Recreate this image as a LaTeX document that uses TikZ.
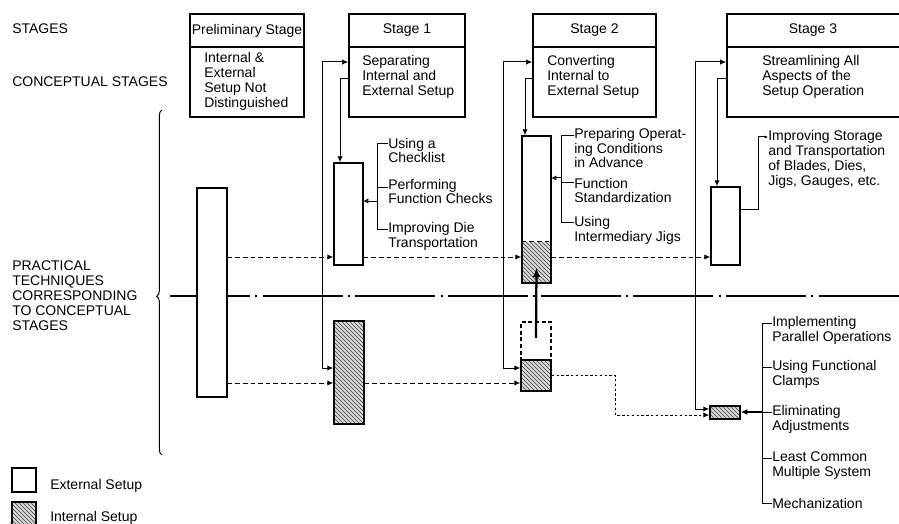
\documentclass[tikz,border=0pt]{standalone}
\usepackage{fontspec}
\setmainfont{Liberation Sans}
\usetikzlibrary{arrows.meta, patterns, fit, decorations.pathreplacing}

\begin{document}
\begin{tikzpicture}[
  x=0.75pt, y=-0.75pt,
  txt/.style={font=\fontsize{10.5}{11.2}\selectfont, inner sep=0pt, align=left, anchor=west},
  hdr/.style={font=\fontsize{10.5}{11.2}\selectfont, inner sep=0pt},
  stagebox/.style={draw, line width=1.2pt, fill=white, inner sep=0pt},
  extbox/.style={draw, line width=1.1pt, fill=white, inner sep=0pt},
  hatch/.style={inner sep=0pt, preaction={fill=gray!30}, pattern=north west lines, pattern color=black!75},
  intbox/.style={hatch, draw, line width=1.1pt},
  link/.style={line width=0.75pt},
  arr/.style={-{Latex[length=4.5pt, width=4pt]}},
  arrs/.style={{Latex[length=4.5pt, width=4pt]}-{Latex[length=4.5pt, width=4pt]}},
  opn/.style={-{Triangle[open, length=3.5pt, width=3.5pt]}},
  dashln/.style={line width=0.75pt, dash pattern=on 3.5pt off 2.2pt},
  dotln/.style={line width=0.75pt, dash pattern=on 1.8pt off 1.8pt},
  axis/.style={line width=0.8pt, dash pattern=on 60pt off 4pt on 1.5pt off 4pt}
]
  \clip (0,0) rectangle (899,524);

  % --- rows and lanes ---
  \coordinate (rD) at (0,62);
  \coordinate (rE) at (0,79);
  \coordinate (rA) at (0,257);
  \coordinate (rB) at (0,383);
  \coordinate (rF) at (0,375);
  \coordinate (o1) at (322,368);
  \coordinate (o2) at (503,368);
  \coordinate (o3) at (695,409);
  \coordinate (i1) at (340,0);
  \coordinate (i2) at (525,0);
  \coordinate (i3) at (717,0);
  \coordinate (bd) at (615,415);

  % --- left labels ---
  \node[txt] (lstg) at (12,29) {STAGES};
  \node[txt] (lcon) at (12,82) {CONCEPTUAL STAGES};
  \node[txt] (lprc) at (12,296) {PRACTICAL\\TECHNIQUES\\CORRESPONDING\\TO CONCEPTUAL\\STAGES};
  \coordinate (brb) at (162,455);
  \coordinate (brt) at (162,110);
  \draw[link, decorate, decoration={brace, amplitude=4pt, aspect=0.46}] (brb) -- (brt);

  % --- centre line ---
  \coordinate (axl) at (170,296);
  \coordinate (axr) at (899,296);
  \draw[axis] (axl) -- (axr);

  % --- conceptual stages ---
  \node[stagebox, fit={(190,14) (304,47)}] (hd0) {};
  \node[stagebox, fit={(190,47) (304,117)}] (cs0) {};
  \node[hdr] (hd0t) at (hd0.center) {Preliminary Stage};
  \node[txt] (cs0t) at (204,81) {Internal \&\\External\\Setup Not\\Distinguished};

  \node[stagebox, fit={(349,14) (465,47)}] (hd1) {};
  \node[stagebox, fit={(349,47) (465,117)}] (cs1) {};
  \node[hdr] (hd1t) at (hd1.center) {Stage 1};
  \node[txt] (cs1t) at (362,77) {Separating\\Internal and\\External Setup};

  \node[stagebox, fit={(533,14) (656,47)}] (hd2) {};
  \node[stagebox, fit={(533,47) (656,117)}] (cs2) {};
  \node[hdr] (hd2t) at (hd2.center) {Stage 2};
  \node[txt] (cs2t) at (547,77) {Converting\\Internal to\\External Setup};

  \node[stagebox, fit={(727,14) (910,47)}] (hd3) {};
  \node[stagebox, fit={(727,47) (910,117)}] (cs3) {};
  \node[hdr] (hd3t) at (813,30.5) {Stage 3};
  \node[txt] (cs3t) at (762,77) {Streamlining All\\Aspects of the\\Setup Operation};

  % --- technique boxes ---
  \node[extbox, fit={(197,188) (227,397)}] (pre) {};
  \node[extbox, fit={(334,163) (363,265)}] (e1) {};
  \node[intbox, fit={(334,321) (364,424)}] (h1) {};
  \node[hatch, fit={(522,242) (551,283)}] (h2t) {};
  \node[extbox, fill=none, fit={(522,136) (551,283)}] (e2) {};
  \draw[dashln] (h2t.north west) -- (h2t.north east);
  \node[extbox, dash pattern=on 3pt off 2pt, fit={(521,322) (551,360)}] (d2) {};
  \node[intbox, fit={(521,360) (551,391)}] (h2) {};
  \node[extbox, fit={(711,187) (740,265)}] (e3) {};
  \node[intbox, fit={(710,406) (740,419)}] (h3) {};
  \draw[line width=1.7pt, -{Latex[length=7pt, width=6pt]}] ([yshift=2.25pt]d2.center) -- ([yshift=-4pt]h2t.center);

  % --- links between stages and techniques ---
  \draw[link, arrs] (cs1.west |- rD) -| (o1) -- (o1 -| h1.west);
  \draw[link, arr] (cs1.west |- rE) -| (e1.north -| i1);
  \draw[link, arrs] (cs2.west |- rD) -| (o2) -- (o2 -| h2.west);
  \draw[link, arr] (cs2.west |- rE) -| (e2.north -| i2);
  \draw[link, arrs] (cs3.west |- rD) -| (o3) -- (o3 -| h3.west);
  \draw[link, arr] (cs3.west |- rE) -| (e3.north -| i3);

  \draw[dashln, arr] (pre.east |- rA) -- (e1.west |- rA);
  \draw[dashln, arr] (e1.east |- rA) -- (e2.west |- rA);
  \draw[dashln, arr] (e2.east |- rA) -- (e3.west |- rA);
  \draw[dashln, arr] (pre.east |- rB) -- (h1.west |- rB);
  \draw[dashln, arr] (h1.east |- rB) -- (h2.west |- rB);
  \draw[dotln, arr] (h2.east |- rF) -| (bd) -- (bd -| h3.west);

  % --- stage 1 techniques ---
  \node[txt] (t1a) at (388,150.5) {Using a\\Checklist};
  \node[txt] (t1b) at (388,191.5) {Performing\\Function Checks};
  \node[txt] (t1c) at (388,236.5) {Improving Die\\Transportation};
  \coordinate (v1a) at (377,144);
  \coordinate (v1b) at (377,187);
  \coordinate (v1c) at (377,229);
  \coordinate (v1d) at (377,201);
  \draw[link] (v1a -| t1a.west) -- (v1a) -- (v1c) -- (v1c -| t1c.west);
  \draw[link] (v1b) -- (v1b -| t1b.west);
  \draw[link, opn] (v1d) -- (v1d -| e1.east);

  % --- stage 2 techniques ---
  \node[txt] (t2a) at (574,148) {Preparing Operat-\\ing Conditions\\in Advance};
  \node[txt] (t2b) at (574,190.5) {Function\\Standardization};
  \node[txt] (t2c) at (574,230.5) {Using\\Intermediary Jigs};
  \coordinate (v2a) at (561,136);
  \coordinate (v2b) at (561,183);
  \coordinate (v2c) at (561,222);
  \coordinate (v2d) at (561,178);
  \draw[link] (v2a -| t2a.west) -- (v2a) -- (v2c) -- (v2c -| t2c.west);
  \draw[link] (v2b) -- (v2b -| t2b.west);
  \draw[link, opn] (v2d) -- (v2d -| e2.east);

  % --- stage 3 techniques ---
  \node[txt] (t3) at (768,159.5) {Improving Storage\\and Transportation\\of Blades, Dies,\\Jigs, Gauges, etc.};
  \coordinate (v3a) at (758,137);
  \coordinate (v3b) at (758,209);
  \draw[link, -{Latex[length=2.5pt, width=2.5pt]}] (v3b -| e3.east) -- (v3b) -- (v3a) -- (v3a -| t3.west);

  \node[txt] (t4a) at (772,330.5) {Implementing\\Parallel Operations};
  \node[txt] (t4b) at (772,374.5) {Using Functional\\Clamps};
  \node[txt] (t4c) at (772,419.5) {Eliminating\\Adjustments};
  \node[txt] (t4d) at (772,465.5) {Least Common\\Multiple System};
  \node[txt] (t4e) at (772,503) {Mechanization};
  \coordinate (v4a) at (762,323);
  \coordinate (v4b) at (762,367);
  \coordinate (v4c) at (762,412);
  \coordinate (v4d) at (762,458);
  \coordinate (v4e) at (762,503);
  \draw[link] (v4a -| t4a.west) -- (v4a) -- (v4e) -- (v4e -| t4e.west);
  \draw[link] (v4b) -- (v4b -| t4b.west);
  \draw[link] (v4c) -- (v4c -| t4c.west);
  \draw[link] (v4d) -- (v4d -| t4d.west);
  \draw[line width=1.3pt, -{Latex[length=5pt, width=4.5pt]}] (v4c) -- (v4c -| h3.east);

  % --- legend ---
  \node[extbox, fit={(12,468) (36,492)}] (lge) {};
  \node[intbox, fit={(12,502) (36,526)}] (lgi) {};
  \node[txt] (lget) at (50,486) {External Setup};
  \node[txt] (lgit) at (50,518) {Internal Setup};
\end{tikzpicture}
\end{document}
